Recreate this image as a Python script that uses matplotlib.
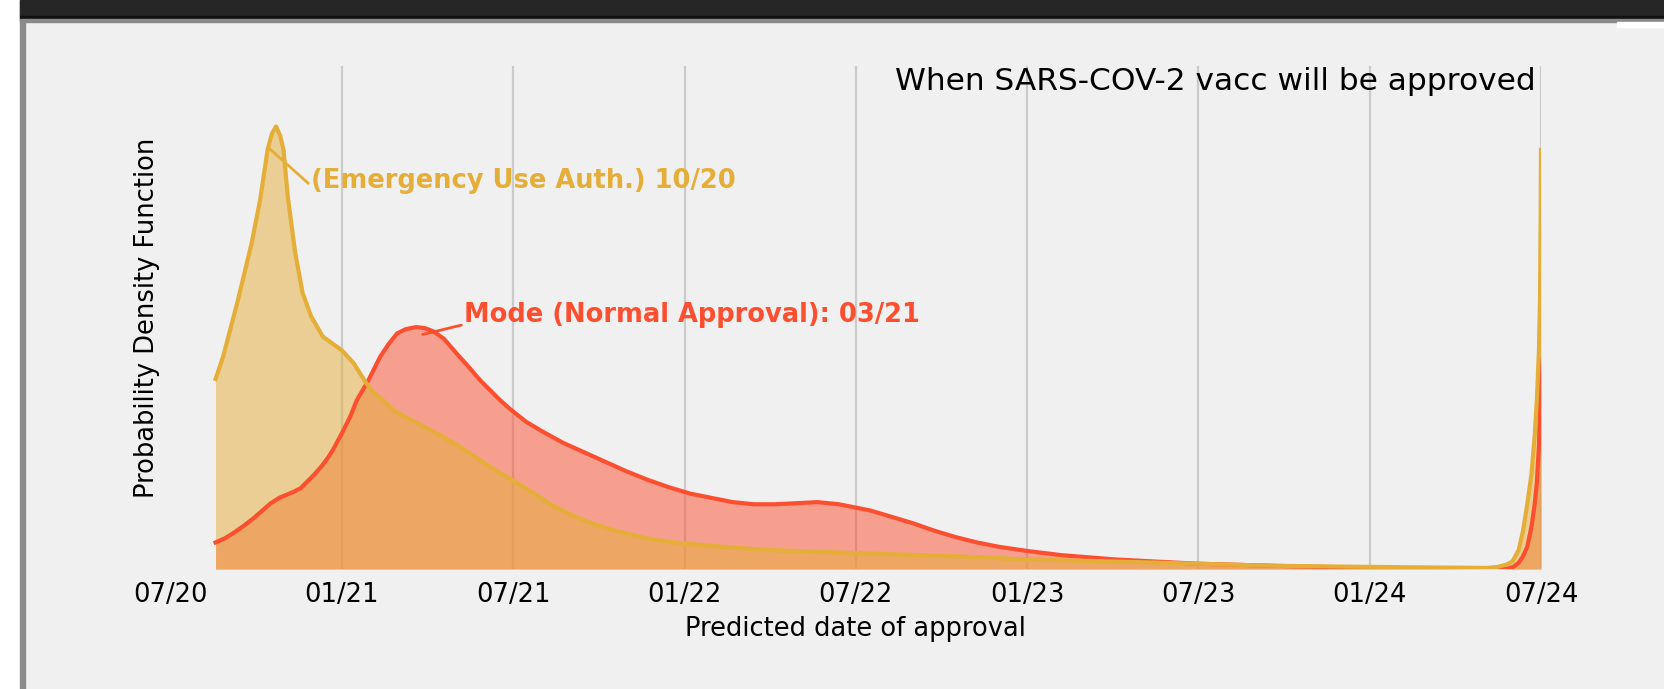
import matplotlib
matplotlib.use('Agg')
import matplotlib.pyplot as plt
from matplotlib.patches import Rectangle

# months after July 2020, density (arbitrary units)
eua_months = [1.574, 1.838, 2.355, 2.838, 3.136, 3.397, 3.545, 3.694, 3.843, 3.955,
              4.104, 4.365, 4.625, 4.923, 5.332, 6.001, 6.410, 6.856, 7.117, 7.450,
              7.786, 8.158, 8.605, 9.088, 9.646, 10.205, 10.763, 11.321, 11.953,
              12.623, 13.367, 14.111, 14.855, 15.599, 16.343, 17.087, 17.980, 19.319,
              20.807, 23.970, 27.504, 29.996, 33.084, 35.949, 38.664, 41.975, 46.105,
              46.477, 46.775, 46.998, 47.221, 47.370, 47.519, 47.668, 47.779, 47.854,
              47.928, 47.965, 47.990, 48.000]
eua_density = [1.79, 2.00, 2.53, 3.07, 3.48, 3.95, 4.10, 4.17, 4.08, 3.95,
               3.51, 2.98, 2.60, 2.38, 2.19, 2.06, 1.94, 1.75, 1.66, 1.59,
               1.50, 1.44, 1.38, 1.31, 1.23, 1.14, 1.04, 0.94, 0.84,
               0.73, 0.60, 0.50, 0.42, 0.36, 0.31, 0.27, 0.24, 0.21,
               0.18, 0.15, 0.12, 0.09, 0.07, 0.05, 0.03, 0.02, 0.01,
               0.02, 0.04, 0.07, 0.18, 0.36, 0.61, 0.90, 1.26, 1.59,
               2.06, 2.54, 3.36, 3.95]

normal_months = [1.574, 1.909, 2.206, 2.578, 2.913, 3.211, 3.508, 3.806, 4.067, 4.327,
                 4.550, 4.773, 4.997, 5.294, 5.517, 5.703, 6.001, 6.298, 6.521, 6.893,
                 7.117, 7.340, 7.637, 7.935, 8.233, 8.605, 8.902, 9.200, 9.572, 10.019,
                 10.391, 10.837, 11.321, 11.544, 11.879, 12.437, 12.995, 13.739, 14.483,
                 15.227, 15.971, 16.715, 17.459, 18.203, 18.947, 19.691, 20.435, 21.179,
                 21.923, 22.667, 23.411, 23.970, 24.528, 25.272, 26.016, 26.760, 27.504,
                 28.248, 28.993, 29.996, 31.224, 33.084, 35.949, 38.664, 41.975, 46.105,
                 46.775, 47.035, 47.221, 47.370, 47.519, 47.668, 47.779, 47.854, 47.928,
                 47.980, 48.000]
normal_density = [0.25, 0.29, 0.34, 0.41, 0.48, 0.55, 0.62, 0.67, 0.70, 0.73,
                  0.76, 0.82, 0.88, 0.97, 1.05, 1.13, 1.28, 1.44, 1.59, 1.76,
                  1.88, 2.00, 2.12, 2.22, 2.26, 2.28, 2.27, 2.24, 2.17, 2.03,
                  1.92, 1.78, 1.65, 1.59, 1.51, 1.39, 1.30, 1.19, 1.10,
                  1.01, 0.92, 0.84, 0.77, 0.71, 0.67, 0.63, 0.61, 0.61,
                  0.62, 0.63, 0.61, 0.58, 0.55, 0.49, 0.43, 0.36, 0.30,
                  0.25, 0.21, 0.17, 0.13, 0.09, 0.05, 0.03, 0.01, 0.00,
                  0.00, 0.02, 0.06, 0.12, 0.21, 0.40, 0.61, 0.81, 1.16,
                  1.66, 1.97]

tick_months = [0, 6, 12, 18, 24, 30, 36, 42, 48]
tick_labels = ['07/20', '01/21', '07/21', '01/22', '07/22', '01/23', '07/23', '01/24', '07/24']

YELLOW = '#e5ae38'
RED = '#fc4f30'
BG = '#f0f0f0'
W, H = 1665, 689


def px_rect(fig, x0, y0, x1, y1, color):
    # rectangle given in pixels from the top left corner
    fig.patches.append(Rectangle((x0 / W, 1 - y1 / H), (x1 - x0) / W, (y1 - y0) / H,
                                 transform=fig.transFigure, color=color, zorder=0))


def main():
    fig = plt.figure(figsize=(W / 100, H / 100), dpi=100, facecolor=BG)

    # screenshot frame
    px_rect(fig, 0, 0, 20, H, 'white')
    px_rect(fig, 20, 0, 25, H, '#8a8a8a')
    px_rect(fig, 20, 0, W, 16, '#262626')
    px_rect(fig, 20, 16, W, 19, '#111111')
    px_rect(fig, 20, 19, W, 22, '#8a8a8a')
    px_rect(fig, 1617, 22, W, 27, 'white')

    left, right, top, bottom = 170.6, 1541, 66, 569
    ax = fig.add_axes([left / W, 1 - bottom / H, (right - left) / W, (bottom - top) / H])
    ax.set_facecolor(BG)
    for s in ax.spines.values():
        s.set_visible(False)

    for m in tick_months[1:]:
        ax.axvline(m, color='#cbcbcb', lw=1.6, zorder=0)

    ax.fill_between(normal_months, normal_density, color=RED, alpha=0.5, lw=0, zorder=1)
    ax.fill_between(eua_months, eua_density, color=YELLOW, alpha=0.5, lw=0, zorder=1)
    ax.plot(normal_months, normal_density, color=RED, lw=3, zorder=3,
            solid_joinstyle='round')
    ax.plot(eua_months, eua_density, color=YELLOW, lw=3, zorder=3,
            solid_joinstyle='round')

    ax.set_xlim(0, 48)
    ax.set_ylim(0, 4.74)
    ax.set_xticks(tick_months)
    ax.set_xticklabels(tick_labels, fontsize=18.5)
    ax.set_yticks([])
    ax.tick_params(axis='x', length=0, pad=9)

    ax.set_xlabel('Predicted date of approval', fontsize=18.5)
    ax.xaxis.set_label_coords(0.5, -0.093)
    ax.set_ylabel('Probability Density Function', fontsize=18.5)
    ax.yaxis.set_label_coords(-0.0077, 0.5)

    ax.text(47.8, 4.59, 'When SARS-COV-2 vacc will be approved', fontsize=22.5,
            ha='right', va='center')

    ax.annotate('(Emergency Use Auth.) 10/20', xy=(3.47, 3.96), xytext=(4.92, 3.66),
                color=YELLOW, fontsize=18.5, fontweight='bold', ha='left', va='center',
                arrowprops=dict(arrowstyle='-', color=YELLOW, lw=2, shrinkA=0, shrinkB=0,
                                relpos=(0, 0.3)))
    ax.annotate('Mode (Normal Approval): 03/21', xy=(8.83, 2.21), xytext=(10.28, 2.39),
                color=RED, fontsize=18.5, fontweight='bold', ha='left', va='center',
                arrowprops=dict(arrowstyle='-', color=RED, lw=2, shrinkA=0, shrinkB=0,
                                relpos=(0, 0.15)))

    plt.savefig('out.png', dpi=100, facecolor=BG)


if __name__ == "__main__":
    main()
